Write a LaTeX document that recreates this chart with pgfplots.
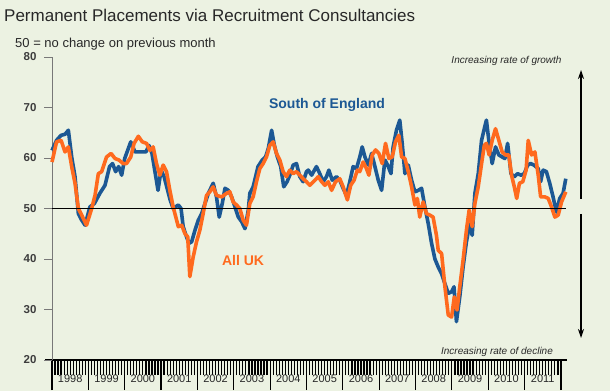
\documentclass[border=0pt]{standalone}
\usepackage{fontspec}
\setmainfont{Liberation Sans}
\usepackage{pgfplots}
\pgfplotsset{compat=1.18}
\usetikzlibrary{arrows.meta}
\definecolor{bgc}{RGB}{236,242,226}
\definecolor{soe}{RGB}{28,88,148}
\definecolor{uk}{RGB}{255,106,30}
\definecolor{txt}{RGB}{40,40,40}
\definecolor{axg}{RGB}{120,120,120}
\begin{document}
\begin{tikzpicture}
\fill[bgc] (0pt,0pt) rectangle (610pt,391pt);
\draw[black, line width=1.6pt] (45pt,31pt) -- (53pt,31pt);
\begin{axis}[
  at={(52pt,31pt)}, anchor=south west,
  scale only axis, width=515pt, height=303pt,
  xmin=0, xmax=170, ymin=20, ymax=80,
  clip=false,
  axis x line*=bottom, axis y line*=left,
  x axis line style={black, line width=1.8pt},
  y axis line style={axg, line width=1pt},
  tick align=outside,
  /pgf/number format/assume math mode=true,
  xtick={0,12,...,168},
  minor x tick num=11,
  major tick length=30pt, minor tick length=15pt,
  xtick style={black, line width=1.2pt},
  x tick label as interval,
  xticklabels={1998,1999,2000,2001,2002,2003,2004,2005,2006,2007,2008,2009,2010,2011},
  xticklabel style={font=\fontsize{11}{13}\selectfont, text=txt, yshift=19pt},
  ytick=\empty,
  extra y ticks={20,30,40,50,60,70,80},
  extra y tick style={grid=none, major tick length=8pt, tick style={axg, line width=1pt},
    yticklabel style={font=\bfseries\fontsize{11.5}{13}\selectfont, text=txt!90!white, xshift=-4pt}},
]
% South of England
\addplot[soe, line width=3.6pt, line join=round] coordinates {
(0,61.5) (1.5,63.5) (3,64.5) (4.3,64.7) (5.4,65.5) (6.5,60.2) (7.6,56.3) (8.7,49) (9.8,47.7) (10.9,46.7)
(12.5,50.3) (14,51) (15.8,53) (17.5,54.6) (19,58.3) (20,58.9) (21,57.3) (22,58.3) (23,56.6) (24,59.9)
(26,63.2) (27.4,61.2) (29.6,61.2) (31,61.2) (32,62.5) (33,60.9) (35,53.6) (36,57.6) (37,56.3) (39,51.7)
(40,50) (41.7,50.7) (42.6,50) (43.3,46.4) (44.4,44.4) (45.2,43.1) (46.1,43.4) (47.2,45.7) (48.3,47.7) (49.4,49)
(50.5,51) (51.6,53) (53.2,55) (54.3,52.3) (55.2,48.3) (56.2,51) (57.1,54) (58.2,53.6) (59.3,52.3) (60.4,50.3)
(61.5,48.3) (62.6,47.4) (63.7,46) (64.8,49.7) (65.3,53) (66.4,54.3) (68,58.3) (69.4,59.6) (70.5,60.2) (71.4,61.9)
(72.5,65.5) (73.4,62.5) (74.4,60.2) (75.5,58.3) (76.5,54.3) (77.6,55.3) (78.7,56.9) (79.6,58.6) (80.7,58.9) (81.8,56.3)
(82.9,55.3) (84,57.3) (84.6,57.6) (85.7,56.6) (87.3,58.3) (88.4,56.9) (89.5,55.3) (90.6,56.3) (91.4,57.6) (92.5,55.6)
(93.9,56.3) (95,55.6) (96.1,54) (97.2,52.6) (98.3,55.3) (99.4,58.3) (100.5,57.9) (101.6,60.2) (102.4,62.2) (103.3,60.2)
(104.4,58.6) (105.5,60.9) (106.6,58.3) (107.7,55.6) (108.8,53.6) (109.9,59.6) (110.8,58.6) (111.9,56.9) (112.6,62.2) (113.7,65.5)
(114.8,67.5) (115.6,62.9) (116.5,56.9) (117.6,58.6) (118.7,55.6) (119.8,53.3) (120.9,53.6) (122,54) (123.1,50.3) (124.2,47)
(125.3,43.1) (126.4,40) (127.5,38.4) (128.6,37.1) (129.7,35.1) (130.8,33.2) (131.9,33.5) (132.7,34.5) (133.5,27.6) (134.6,32.5)
(135.7,38.4) (136.8,43.4) (137.9,47) (138.7,44.7) (139.6,53) (140.7,56.9) (141.8,63.5) (142.7,65.8) (143.4,67.5) (144.3,62.9)
(145.3,58.9) (146.4,62.2) (147.5,60.6) (148.6,60.2) (149.5,59.9) (150.4,62.9) (151.5,56.9) (152.6,56.3) (153.7,56.9) (154.8,56.6)
(155.9,56.9) (157,58.6) (158,58.9) (159.1,58.6) (160.5,57.9) (161.3,55.3) (162.1,57.6) (163.2,57.3) (164.3,55) (165.4,52.3)
(166.5,49.3) (167.6,52) (168.7,53) (169.6,55.9)
};
% All UK
\addplot[uk, line width=3.6pt, line join=round] coordinates {
(0,59.2) (1.5,63.2) (3,63.5) (4.3,61.2) (5.4,62.2) (6.5,58.3) (7.6,55) (8.7,50) (9.8,48.7) (11.4,46.7)
(13.1,50) (14.2,52.6) (15.3,56.9) (16.4,57.3) (18,60.2) (19.5,60.9) (20.8,59.9) (22.1,59.6) (23.5,58.9) (24.6,58.9)
(26,60.2) (27.1,62.9) (28.5,64.3) (29.8,63.2) (31.2,62.9) (32.3,61.5) (33.4,62.2) (34.5,58.9) (35.6,56.6) (36.7,58.6)
(37.8,57.3) (38.9,53.6) (40,50.3) (41.7,46.4) (42.8,46.7) (43.9,45) (44.8,44.4) (45.5,36.5) (46.6,40.4) (47.7,43.4)
(48.8,45.7) (49.9,49) (51,52.6) (52.1,53.3) (53.2,54.3) (54.3,52.6) (56,52.3) (57.6,53) (58.7,53.3) (59.8,51.3)
(60.9,50.7) (62,50) (63.1,47.7) (64.2,46.7) (65.3,51) (66.4,52.3) (67.5,55.3) (68.6,57.9) (69.7,58.9) (70.8,60.2)
(71.9,62.5) (73,63.2) (74.1,60.9) (75.2,59.6) (76.3,57.3) (77.4,56.3) (78.5,57.6) (79.6,56.9) (80.7,57.3) (81.8,56.6)
(82.9,55.9) (84,55.3) (85.1,54.6) (86.8,55.6) (87.9,56.3) (89,55.3) (90.1,54.6) (91.2,55.3) (92.3,53.6) (93.6,55.3)
(95,55.9) (96.1,54.3) (97.5,51.7) (98.6,54.6) (99.7,55.6) (100.8,57.6) (101.6,57.3) (102.7,59.2) (103.8,57.9) (104.6,56.6)
(105.7,60.6) (106.8,61.6) (107.9,60.9) (109,58.9) (110.1,62.9) (111.2,59.9) (112.3,60.2) (113.4,63.2) (114.5,64.5) (115.4,60.2)
(116.5,59.9) (117.6,57.3) (118.7,54.3) (119.8,50.7) (120.6,52) (121.4,48.3) (122.5,51.3) (123.6,49) (124.7,48.7) (125.8,48.3)
(126.9,44.7) (127.5,41.7) (128.6,41.1) (129.7,34.5) (130.8,28.9) (131.9,28.5) (132.8,32.5) (133.7,29.9) (134.6,34.5) (135.7,39.8)
(136.8,45.7) (137.7,49.7) (138.7,46.4) (139.6,51) (140.7,54.3) (141.8,58.9) (142.7,62.5) (143.4,62.9) (144.3,60.6) (145.3,63.5)
(146.4,65.8) (147.5,63.5) (148.6,61.2) (149.7,60.6) (150.8,60.6) (151.7,56.6) (152.6,54.3) (153.4,52) (154.3,55) (155.4,55.3)
(156.5,57.6) (157.2,63.5) (158.3,60.6) (159.4,61.2) (160.5,56.6) (161.3,52.3) (162.7,52.3) (163.8,52) (164.9,50.3) (166,48.3)
(167.1,48.7) (168.2,51.3) (169.6,53.3)
};
\addplot[black, line width=1.2pt] coordinates {(0,50) (169.6,50)};
\end{axis}
% texts
\node[anchor=west, inner sep=0pt, text=txt, font=\fontsize{17}{20}\selectfont] at (4pt,376pt) {Permanent Placements via Recruitment Consultancies};
\node[anchor=west, inner sep=0pt, text=txt, font=\fontsize{13}{15}\selectfont] at (15pt,347pt) {50 = no change on previous month};
\node[inner sep=0pt, text=txt, font=\itshape\fontsize{10}{12}\selectfont] at (506.5pt,330pt) {Increasing rate of growth};
\node[inner sep=0pt, text=txt, font=\itshape\fontsize{10}{12}\selectfont] at (497pt,39pt) {Increasing rate of decline};
\node[inner sep=0pt, text=soe, font=\bfseries\fontsize{14}{16}\selectfont] at (327pt,286pt) {South of England};
\node[inner sep=0pt, text=uk, font=\bfseries\fontsize{14}{16}\selectfont] at (243pt,131pt) {All UK};
% arrows
\draw[black, line width=1.2pt, -{Stealth[length=9pt,width=6pt]}] (581pt,192pt) -- (581pt,321pt);
\draw[black, line width=1.2pt, -{Stealth[length=9pt,width=6pt]}] (581pt,177pt) -- (581pt,53pt);
\end{tikzpicture}
\end{document}
